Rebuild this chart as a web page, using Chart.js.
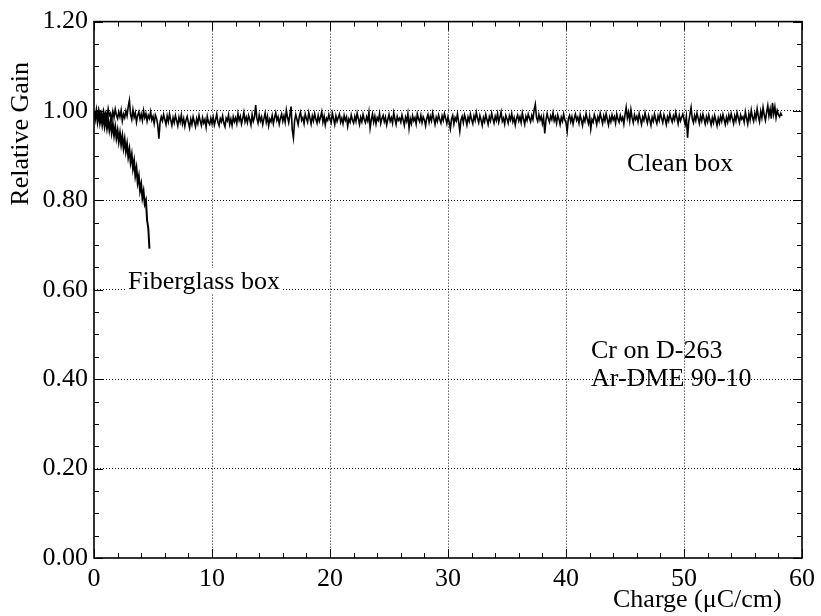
<!DOCTYPE html>
<html>
<head>
<meta charset="utf-8">
<script src="https://cdn.jsdelivr.net/npm/chart.js@4.4.1/dist/chart.umd.min.js"></script>
<style>
  body { margin: 0; background: #fff; }
  canvas { display: block; }
</style>
</head>
<body>
<canvas id="gain-chart" width="821" height="616"></canvas>
<script>
// x ticks / y ticks
const chargeTicks = [0, 10, 20, 30, 40, 50, 60];
const gainTicks = [0, 0.2, 0.4, 0.6, 0.8, 1.0, 1.2];

// both traces are sampled every 0.1 uC/cm starting at 0
const sampleStep = 0.1;

// clean box, 0.0 .. 58.3
const cleanGain = [
  1.000, 0.992, 0.998, 0.985, 1.003, 0.990, 0.996, 0.983, 1.001, 0.988,
  0.997, 0.984, 1.005, 0.990, 0.995, 0.979, 0.999, 0.986, 1.004, 0.991,
  0.983, 0.998, 0.987, 1.002, 0.978, 0.993, 0.985, 1.000, 0.989, 1.010,
  1.024, 0.992, 0.981, 1.003, 0.986, 0.996, 0.975, 0.990, 0.998, 0.982,
  0.993, 0.979, 1.001, 0.985, 0.994, 0.977, 0.990, 0.983, 0.998, 0.980,
  0.988, 0.972, 0.991, 0.984, 0.969, 0.938, 0.975, 0.987, 0.978, 0.992,
  0.981, 0.970, 0.989, 0.976, 0.993, 0.980, 0.968, 0.985, 0.974, 0.990,
  0.979, 0.967, 0.986, 0.975, 0.991, 0.971, 0.983, 0.966, 0.980, 0.988,
  0.974, 0.962, 0.982, 0.970, 0.987, 0.976, 0.965, 0.983, 0.972, 0.990,
  0.978, 0.968, 0.985, 0.973, 0.981, 0.964, 0.988, 0.975, 0.970, 0.984,
  0.972, 0.986, 0.969, 0.980, 0.993, 0.975, 0.967, 0.983, 0.976, 0.989,
  0.973, 0.965, 0.984, 0.978, 0.991, 0.970, 0.982, 0.968, 0.987, 0.976,
  0.985, 0.972, 0.994, 0.979, 0.988, 0.971, 0.983, 0.997, 0.976, 0.986,
  0.974, 0.990, 0.981, 0.969, 0.992, 0.977, 0.986, 1.013, 0.984, 0.973,
  0.991, 0.978, 0.987, 0.970, 0.983, 0.995, 0.975, 0.988, 0.967, 0.982,
  0.976, 0.990, 0.972, 0.985, 0.996, 0.979, 0.987, 0.971, 0.984, 0.993,
  0.977, 0.989, 0.975, 1.002, 0.986, 0.974, 0.991, 1.010, 0.958, 0.940,
  0.978, 0.992, 0.981, 0.970, 0.988, 0.997, 0.979, 0.985, 0.972, 0.993,
  0.983, 0.975, 0.996, 0.984, 0.971, 0.989, 0.978, 0.994, 0.982, 0.973,
  0.990, 0.977, 0.986, 0.998, 0.975, 0.988, 0.969, 0.984, 0.979, 0.992,
  0.981, 0.974, 0.995, 0.983, 0.970, 0.989, 0.977, 0.986, 0.993, 0.975,
  0.984, 0.972, 0.990, 0.979, 0.987, 0.966, 0.982, 0.975, 0.991, 0.980,
  0.973, 0.988, 0.977, 0.995, 0.983, 0.970, 0.986, 0.976, 0.992, 0.981,
  0.974, 0.987, 0.978, 0.997, 0.962, 0.980, 0.993, 0.975, 0.988, 0.971,
  0.985, 0.979, 0.994, 0.972, 0.983, 0.990, 0.976, 0.986, 0.969, 0.981,
  0.992, 0.977, 0.985, 0.973, 0.996, 0.982, 0.970, 0.988, 0.979, 0.984,
  0.975, 0.991, 0.980, 0.968, 0.986, 0.977, 0.994, 0.962, 0.983, 0.972,
  0.989, 0.978, 0.985, 0.971, 0.993, 0.982, 0.976, 0.990, 0.974, 0.987,
  0.980, 0.967, 0.984, 0.992, 0.975, 0.988, 0.978, 0.996, 0.983, 0.970,
  0.986, 0.977, 0.991, 0.981, 0.973, 0.989, 0.979, 0.994, 0.984, 0.972,
  0.987, 0.975, 0.960, 0.982, 0.990, 0.971, 0.985, 0.978, 0.993, 0.976,
  0.955, 0.980, 0.988, 0.974, 0.991, 0.982, 0.969, 0.986, 0.977, 0.993,
  0.981, 0.972, 0.989, 0.979, 0.997, 0.984, 0.974, 0.990, 0.980, 0.968,
  0.985, 0.976, 0.992, 0.981, 0.970, 0.987, 0.978, 0.995, 0.983, 0.973,
  0.988, 0.979, 0.994, 0.975, 0.986, 0.998, 0.977, 0.984, 0.971, 0.990,
  0.982, 0.973, 0.989, 0.980, 0.994, 0.976, 0.985, 0.969, 0.983, 0.991,
  0.978, 0.987, 0.974, 0.995, 0.982, 0.970, 0.988, 0.979, 0.993, 0.984,
  0.976, 0.990, 0.981, 1.003, 1.015, 0.985, 0.977, 0.992, 0.980, 0.988,
  0.972, 0.986, 0.950, 0.979, 0.994, 0.983, 0.975, 0.989, 0.981, 0.996,
  0.978, 0.987, 0.973, 0.991, 0.982, 0.970, 0.986, 0.977, 0.993, 0.980,
  0.974, 0.955, 0.983, 0.990, 0.976, 0.987, 0.971, 0.984, 0.993, 0.979,
  0.986, 0.973, 0.991, 0.980, 0.968, 0.985, 0.977, 0.994, 0.982, 0.972,
  0.988, 0.960, 0.981, 0.975, 0.992, 0.983, 0.970, 0.987, 0.978, 0.995,
  0.983, 0.972, 0.989, 0.978, 0.994, 0.981, 0.969, 0.986, 0.976, 0.991,
  0.980, 0.987, 0.973, 0.993, 0.982, 0.975, 0.990, 0.979, 0.986, 0.971,
  0.992, 1.008, 0.984, 0.997, 0.978, 1.003, 0.985, 0.974, 0.991, 0.981,
  0.988, 0.976, 0.994, 0.982, 0.970, 0.987, 0.979, 0.996, 0.983, 0.973,
  0.990, 0.980, 0.968, 0.986, 0.977, 0.993, 0.981, 0.972, 0.989, 0.979,
  0.995, 0.984, 0.974, 0.991, 0.982, 0.970, 0.987, 0.978, 0.994, 0.983,
  0.975, 0.989, 0.980, 0.997, 0.985, 0.972, 0.990, 0.978, 0.986, 0.993,
  0.981, 0.970, 0.988, 0.940, 0.976, 0.992, 1.008, 0.983, 0.974, 0.990,
  0.979, 0.995, 0.984, 0.972, 0.989, 0.978, 0.993, 0.982, 0.971, 0.987,
  0.976, 0.991, 0.980, 0.969, 0.985, 0.974, 0.990, 0.979, 0.967, 0.984,
  0.973, 0.988, 0.977, 0.992, 0.981, 0.970, 0.986, 0.975, 0.991, 0.980,
  0.994, 0.983, 0.972, 0.989, 0.978, 0.996, 0.985, 0.974, 0.991, 0.982,
  0.987, 0.975, 0.998, 0.984, 0.971, 0.993, 0.980, 1.002, 0.986, 0.977,
  0.995, 0.983, 1.005, 0.988, 0.976, 0.999, 0.985, 1.008, 0.991, 0.979,
  0.997, 1.012, 0.989, 1.004, 0.983, 1.018, 0.993, 1.009, 0.985, 1.001,
  0.992, 0.987, 0.995, 0.989
];

// fiberglass box, 0.0 .. 4.7
const fiberGain = [
  0.998, 0.982, 1.000, 0.976, 0.994, 0.974, 0.990, 0.970, 0.988, 0.966,
  0.984, 0.962, 0.980, 0.958, 0.976, 0.952, 0.970, 0.946, 0.964, 0.940,
  0.956, 0.932, 0.950, 0.926, 0.944, 0.918, 0.936, 0.910, 0.926, 0.898,
  0.914, 0.886, 0.902, 0.872, 0.888, 0.856, 0.872, 0.840, 0.854, 0.822,
  0.836, 0.806, 0.820, 0.792, 0.800, 0.755, 0.738, 0.692
];

const FONT = "'Liberation Serif', 'Times New Roman', serif";

function toPoints(arr) {
  return arr.map((g, i) => ({ x: +(i * sampleStep).toFixed(1), y: g }));
}

// frame on all four sides + inward major/minor ticks
const framePlugin = {
  id: 'frame',
  afterDraw(chart) {
    const { ctx, chartArea: a, scales } = chart;
    const xs = scales.x, ys = scales.y;
    ctx.save();
    ctx.strokeStyle = '#000';
    ctx.lineWidth = 1;
    ctx.beginPath();
    for (let v = 0; v <= 60.001; v += 2) {
      const px = Math.round(xs.getPixelForValue(v)) + 0.5;
      const len = (Math.round(v) % 10 === 0) ? 9 : 5;
      ctx.moveTo(px, a.bottom); ctx.lineTo(px, a.bottom - len);
      ctx.moveTo(px, a.top); ctx.lineTo(px, a.top + len);
    }
    for (let k = 0; k <= 24; k++) {
      const py = Math.round(ys.getPixelForValue(k * 0.05)) + 0.5;
      const len = (k % 4 === 0) ? 9 : 5;
      ctx.moveTo(a.left, py); ctx.lineTo(a.left + len, py);
      ctx.moveTo(a.right, py); ctx.lineTo(a.right - len, py);
    }
    ctx.stroke();
    ctx.lineWidth = 1.6;
    ctx.strokeRect(a.left, a.top, a.right - a.left, a.bottom - a.top);
    ctx.restore();
  }
};

// text labels inside / around the plot
const labelPlugin = {
  id: 'labels',
  afterDatasetsDraw(chart) {
    const { ctx } = chart;
    ctx.save();
    ctx.fillStyle = '#000';
    ctx.font = `26px ${FONT}`;
    ctx.textBaseline = 'alphabetic';
    ctx.textAlign = 'left';

    // Fiberglass box sits on the 0.60 grid line, blanking it
    const fb = 'Fiberglass box';
    const fw = ctx.measureText(fb).width;
    ctx.fillStyle = '#fff';
    ctx.fillRect(127, 268, fw + 3, 26);
    ctx.fillStyle = '#000';
    ctx.fillText(fb, 128, 289);

    ctx.fillText('Clean box', 627, 171);
    ctx.fillText('Cr on D-263', 591, 358);
    ctx.fillText('Ar-DME 90-10', 591, 386);

    ctx.fillText('Charge (\u03BCC/cm)', 613, 607);

    ctx.save();
    ctx.translate(28, 62);
    ctx.rotate(-Math.PI / 2);
    ctx.textAlign = 'right';
    ctx.fillText('Relative Gain', 0, 0);
    ctx.restore();

    ctx.restore();
  }
};

const ctx = document.getElementById('gain-chart').getContext('2d');

new Chart(ctx, {
  type: 'line',
  data: {
    datasets: [
      {
        label: 'Clean box',
        data: toPoints(cleanGain),
        borderColor: '#000',
        borderWidth: 1.6,
        pointRadius: 0,
        tension: 0,
        fill: false
      },
      {
        label: 'Fiberglass box',
        data: toPoints(fiberGain),
        borderColor: '#000',
        borderWidth: 2,
        pointRadius: 0,
        tension: 0,
        fill: false
      }
    ]
  },
  options: {
    responsive: false,
    animation: false,
    layout: { padding: { left: 0, top: 18, right: 18, bottom: 0 } },
    plugins: {
      legend: { display: false },
      tooltip: { enabled: false }
    },
    scales: {
      x: {
        type: 'linear',
        min: 0,
        max: 60,
        afterFit(scale) { scale.height = 58; },
        afterBuildTicks(scale) { scale.ticks = chargeTicks.map(v => ({ value: v })); },
        grid: {
          color: c => (c.tick && (c.tick.value === 0 || c.tick.value === 60)) ? 'rgba(0,0,0,0)' : '#111',
          lineWidth: 1,
          drawTicks: false
        },
        border: { display: false, dash: [1, 2] },
        ticks: {
          padding: 6,
          maxRotation: 0,
          autoSkip: false,
          color: '#000',
          font: { family: FONT, size: 26 },
          callback: v => String(v)
        }
      },
      y: {
        type: 'linear',
        min: 0,
        max: 1.2,
        afterFit(scale) { scale.width = 94; },
        afterBuildTicks(scale) { scale.ticks = gainTicks.map(v => ({ value: v })); },
        grid: {
          color: c => (c.tick && (c.tick.value === 0 || c.tick.value === 1.2)) ? 'rgba(0,0,0,0)' : '#111',
          lineWidth: 1,
          drawTicks: false
        },
        border: { display: false, dash: [1, 2] },
        ticks: {
          padding: 6,
          color: '#000',
          font: { family: FONT, size: 26 },
          callback: v => Number(v).toFixed(2)
        }
      }
    }
  },
  plugins: [framePlugin, labelPlugin]
});
</script>
</body>
</html>
